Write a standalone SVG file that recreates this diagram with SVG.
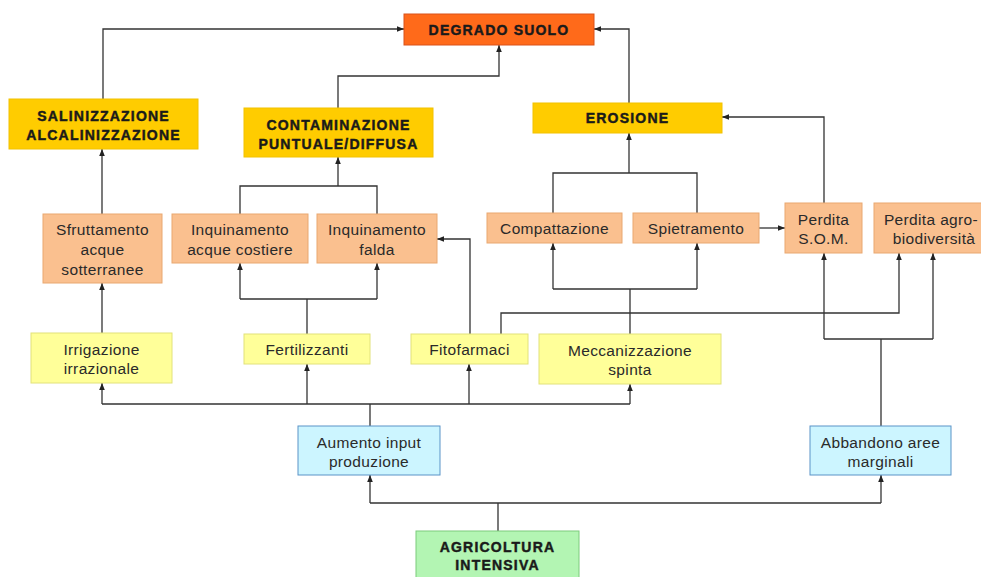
<svg xmlns="http://www.w3.org/2000/svg" width="981" height="577" viewBox="0 0 981 577">
<defs>
<marker id="ah" viewBox="0 0 10 10" refX="10" refY="5" markerWidth="7" markerHeight="7" markerUnits="userSpaceOnUse" orient="auto">
<path d="M0,1 L10,5 L0,9 z" fill="#222"/>
</marker>
<style>
.c{fill:none;stroke:#333;stroke-width:1.3}
.a{marker-end:url(#ah)}
.red{fill:#FF6A1A;stroke:#D9531A;stroke-width:1}
.hy{fill:#FFCC00;stroke:#F2C200;stroke-width:1}
.or{fill:#FAC08F;stroke:#E9A870;stroke-width:1}
.ly{fill:#FFFF99;stroke:#E2E27A;stroke-width:1}
.bl{fill:#CCF5FF;stroke:#5B93C7;stroke-width:1}
.gr{fill:#B3F5B3;stroke:#7CCB7C;stroke-width:1}
.h{font-family:"Liberation Sans",Arial,sans-serif;font-weight:bold;font-size:14px;letter-spacing:1.2px;fill:#1a1a1a;text-anchor:middle;stroke:#1a1a1a;stroke-width:0.45}
.t{font-family:"Liberation Sans",Arial,sans-serif;font-size:15.5px;fill:#2a2a2a;text-anchor:middle;letter-spacing:0.35px}
</style>
</defs>
<rect width="981" height="577" fill="#fff"/>
<g id="connectors">
<path class="c a" d="M103,99 V29 H404"/>
<path class="c a" d="M338,108 V76 H499 V45"/>
<path class="c a" d="M629,103 V29 H594"/>
<path class="c a" d="M102,214 V149"/>
<path class="c" d="M240,214 V186 H377 V214"/>
<path class="c a" d="M338,186 V157"/>
<path class="c" d="M553,213 V173 H697 V213"/>
<path class="c a" d="M629,173 V133"/>
<path class="c a" d="M824,203 V117 H722"/>
<path class="c a" d="M759,228 H785"/>
<path class="c a" d="M102,333 V283"/>
<path class="c" d="M307,334 V299 M240,299 H377"/>
<path class="c a" d="M240,299 V263"/>
<path class="c a" d="M377,299 V263"/>
<path class="c a" d="M470,334 V239 H437"/>
<path class="c a" d="M501,334 V313 H899 V253"/>
<path class="c" d="M630,334 V289 M553,289 H697"/>
<path class="c a" d="M553,289 V243"/>
<path class="c a" d="M697,289 V243"/>
<path class="c" d="M881,426 V339 M824,339 H933"/>
<path class="c a" d="M824,339 V253"/>
<path class="c a" d="M933,339 V253"/>
<path class="c" d="M370,426 V404 M102,404 H630"/>
<path class="c a" d="M102,404 V383"/>
<path class="c a" d="M307,404 V364"/>
<path class="c a" d="M469,404 V364"/>
<path class="c a" d="M630,404 V384"/>
<path class="c" d="M498,531 V503 M370,503 H881"/>
<path class="c a" d="M370,503 V475"/>
<path class="c a" d="M881,503 V475"/>
</g>
<g id="degrado"><rect class="red" x="404" y="14" width="190" height="31"/><text class="h" x="499" y="35">DEGRADO SUOLO</text></g>
<g id="salinizzazione"><rect class="hy" x="9" y="99" width="189" height="50"/><text class="h" x="103.5" y="121">SALINIZZAZIONE</text><text class="h" x="103.5" y="140">ALCALINIZZAZIONE</text></g>
<g id="contaminazione"><rect class="hy" x="244" y="108" width="189" height="49"/><text class="h" x="338.5" y="130">CONTAMINAZIONE</text><text class="h" x="338.5" y="149">PUNTUALE/DIFFUSA</text></g>
<g id="erosione"><rect class="hy" x="533" y="103" width="189" height="30"/><text class="h" x="627.5" y="123">EROSIONE</text></g>
<g id="sfruttamento"><rect class="or" x="43" y="214" width="119" height="69"/><text class="t" x="102.5" y="234.5">Sfruttamento</text><text class="t" x="102.5" y="254.5">acque</text><text class="t" x="102.5" y="274.5">sotterranee</text></g>
<g id="inq-costiere"><rect class="or" x="172" y="214" width="136" height="49"/><text class="t" x="240" y="234.5">Inquinamento</text><text class="t" x="240" y="254.5">acque costiere</text></g>
<g id="inq-falda"><rect class="or" x="317" y="214" width="120" height="49"/><text class="t" x="377" y="234.5">Inquinamento</text><text class="t" x="377" y="254.5">falda</text></g>
<g id="compattazione"><rect class="or" x="487" y="213" width="135" height="30"/><text class="t" x="554.5" y="233.5">Compattazione</text></g>
<g id="spietramento"><rect class="or" x="633" y="213" width="126" height="30"/><text class="t" x="696" y="233.5">Spietramento</text></g>
<g id="perdita-som"><rect class="or" x="785" y="203" width="77" height="50"/><text class="t" x="823.5" y="225">Perdita</text><text class="t" x="823.5" y="244">S.O.M.</text></g>
<g id="perdita-agro"><rect class="or" x="874" y="203" width="112" height="50"/><text class="t" x="931" y="225">Perdita agro-</text><text class="t" x="934" y="244">biodiversità</text></g>
<g id="irrigazione"><rect class="ly" x="31" y="333" width="141" height="50"/><text class="t" x="101.5" y="355">Irrigazione</text><text class="t" x="101.5" y="374">irrazionale</text></g>
<g id="fertilizzanti"><rect class="ly" x="244" y="334" width="126" height="30"/><text class="t" x="307" y="354.5">Fertilizzanti</text></g>
<g id="fitofarmaci"><rect class="ly" x="411" y="334" width="117" height="30"/><text class="t" x="469.5" y="354.5">Fitofarmaci</text></g>
<g id="meccanizzazione"><rect class="ly" x="539" y="334" width="182" height="50"/><text class="t" x="630" y="356">Meccanizzazione</text><text class="t" x="630" y="375">spinta</text></g>
<g id="aumento"><rect class="bl" x="298" y="426" width="142" height="49"/><text class="t" x="369" y="447.5">Aumento input</text><text class="t" x="369" y="466.5">produzione</text></g>
<g id="abbandono"><rect class="bl" x="810" y="426" width="141" height="49"/><text class="t" x="880.5" y="447.5">Abbandono aree</text><text class="t" x="880.5" y="466.5">marginali</text></g>
<g id="agricoltura"><rect class="gr" x="416" y="531" width="163" height="50"/><text class="h" x="497.5" y="552">AGRICOLTURA</text><text class="h" x="497.5" y="570">INTENSIVA</text></g>
</svg>
